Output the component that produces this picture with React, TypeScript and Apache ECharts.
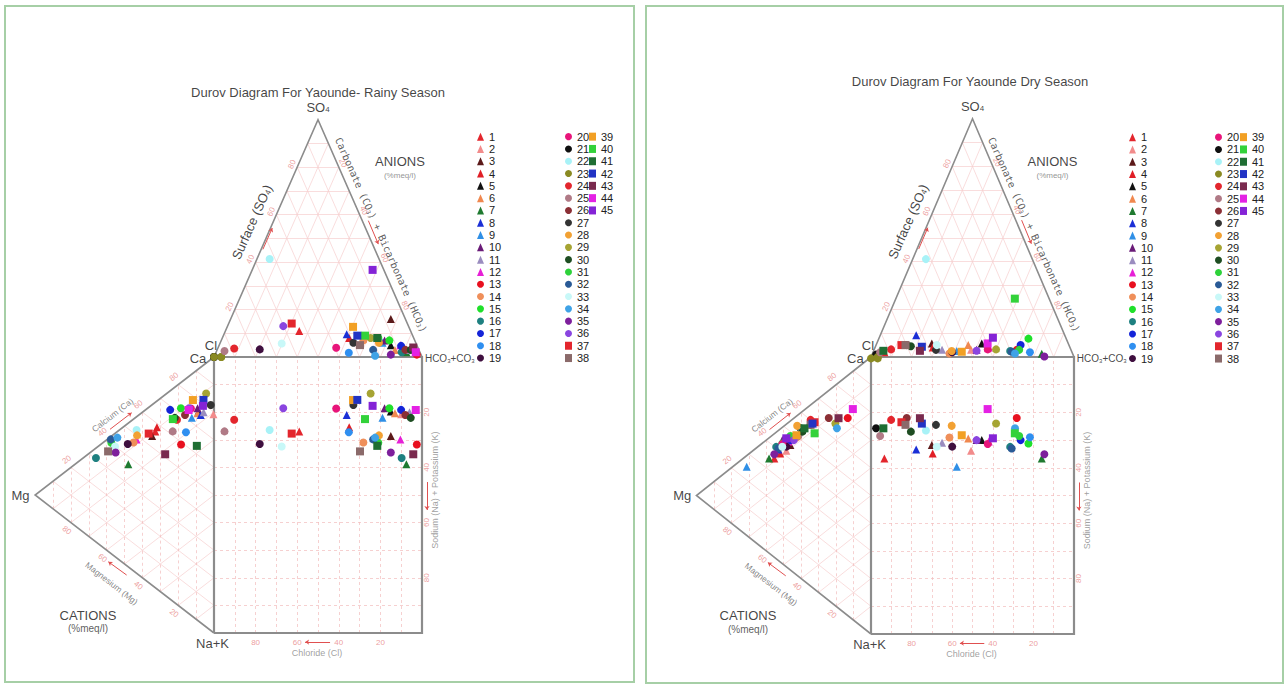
import React, { useEffect, useRef } from "react";
import * as echarts from "echarts";

// ---------- DATA (percent meq/l) ----------
const SAMPLE_NAMES = Array.from({ length: 45 }, (_, i) => String(i + 1));

// Rainy season
const rainySO4 = [11, 3, 16, 8, 5, 3, 2, 9.6, 6, 7, 3, 5, 1, 7, 7, 2, 4.7, 1.8, 3.2, 3.9, 0, 41.3, 0, 3.6, 2.5, 3, 6, 6, 8, 3, 8, 3, 5.7, 0.5, 1, 13, 14.1, 5, 12.7, 9, 8, 9, 4, 2, 36.7];
const rainyHCO3 = [35.5, 88.5, 77, 61, 82.5, 85.5, 91.5, 59, 78, 78.5, 92.5, 87.1, 97, 68.3, 80.8, 89.2, 87.6, 63.9, 20.4, 56.8, 0, 6.1, 3.5, 7.9, 3.8, 90.5, 64, 76.3, 71.3, 93.1, 75, 75, 29.7, 77.2, 84.5, 26.8, 30.3, 67.7, 60.5, 68.1, 74.5, 64.4, 93.8, 96, 57.9];
const rainyCa = [56.6, 79.1, 54.1, 58.6, 75.9, 75, 37.2, 75.3, 71.8, 76.8, 77.1, 48.5, 59.1, 46.5, 72.2, 30.4, 68.6, 64.9, 44.4, 74.9, 100, 51.9, 100, 66.9, 61.5, 70.9, 81.7, 50.1, 84.6, 67, 40.2, 41.3, 39.9, 43.8, 37.9, 74.5, 54, 36.2, 78.5, 66, 63, 81.5, 51.1, 73.7, 79.2];
const rainyMg = [32.8, 0.3, 34.6, 31.9, 8.7, 9.2, 47.9, 7.4, 12.4, 9.2, 5.8, 43.3, 18.4, 45, 18.5, 66, 24.5, 15.7, 48.2, 12.9, 0, 43.3, 0, 20.7, 23.1, 16.2, 1.8, 43, 4.4, 21.9, 57.4, 57.7, 55.3, 54, 55, 13.9, 36.5, 59.2, 11.8, 23, 9.6, 5.9, 27.3, 14.2, 6.2];

// Dry season
const drySO4 = [2, 3, 5.7, 4, 5.7, 5, 1.4, 9.1, 2.5, 3, 3, 4, 3, 1.5, 7.7, 2.5, 5, 2, 2, 3.2, 1, 41.1, 0, 3.2, 2, 5, 3, 2.5, 3.2, 4.5, 3, 2.2, 5, 1.5, 0.2, 2.6, 5, 5, 2.2, 24.5, 2.6, 4.3, 2.6, 5.7, 8.1];
const dryHCO3 = [5.6, 47.8, 27.1, 28.4, 51.7, 45.4, 83.4, 17.7, 41, 50.5, 33.5, 56, 70.3, 37.9, 73.7, 67.3, 71.2, 77.3, 39, 55.9, 2, 6.5, 3.3, 8.3, 3.5, 15.1, 30.5, 38.5, 60, 17.4, 71.5, 68.2, 29.9, 70.2, 85.3, 50.7, 12.5, 14.5, 43.6, 58.6, 4.8, 22.9, 22.8, 54.6, 56];
const dryCa = [35.7, 41.9, 45.1, 39.2, 45.8, 48.1, 34.2, 40.1, 24.8, 44.6, 44.2, 45.8, 71.3, 49.6, 43.4, 40.4, 46.9, 49.1, 43.4, 43.2, 54.1, 53.8, 99.5, 60, 50.7, 65.9, 58.2, 54, 65.8, 53.4, 48.4, 40.4, 42.2, 64.5, 37.2, 47.9, 60.3, 58.2, 50.4, 56.3, 55.2, 59.2, 68.6, 76, 46.4];
const dryMg = [55.4, 48.5, 46.2, 52, 48.5, 45, 58.4, 53.1, 71.2, 50.8, 49.7, 47.3, 13.3, 42.7, 50.8, 54.3, 46.2, 43.9, 48.5, 50.8, 40.4, 39.3, 0, 34.6, 41.6, 24.2, 34.6, 42.3, 20.4, 39.3, 46.2, 53.1, 50.8, 19.5, 55.4, 44.2, 32.3, 34.6, 42.7, 32.3, 38.1, 33.5, 18.6, 10.4, 48.5];

const SAMPLE_COLORS = [
  "#e3262d", "#f28b8b", "#5c1a1a", "#e01f26", "#111111", "#f0884f", "#1f7a30", "#1b2fd6", "#2f8fe6",
  "#6a1b78", "#9a8cbf", "#e620d6", "#e8101f", "#ef8f5a", "#1fe02a", "#1e8080", "#1424d8", "#2f8ff0",
  "#3f0f3f", "#e8157a", "#0f0f0f", "#a8f2f7", "#8a8a22", "#e3262d", "#b07a86", "#8b2f35", "#333333",
  "#f2a133", "#a6a433", "#1e4d22", "#2ed23a", "#2a5a96", "#c8f8f8", "#3fa2e6", "#7e1f9c", "#8a45e0",
  "#e3262d", "#8b6a6a", "#f2a024", "#33d23a", "#1f6e33", "#2233c4", "#7a2a4e", "#e421e4", "#8423d6",
];
const SAMPLE_SHAPES = SAMPLE_NAMES.map((_, i) => (i < 12 ? "triangle" : i < 36 ? "circle" : "rect"));

const TICKS = [20, 40, 60, 80];
const TITLES = ["Durov Diagram For Yaounde- Rainy Season", "Durov Diagram For Yaounde Dry Season"];

// ---------- GEOMETRY ----------
const K = 0.86;
const FONT = '"Liberation Sans", Arial, sans-serif';
const MONO = '"DejaVu Sans Mono", monospace';
const anionXY = (so4: number, hco3: number): [number, number] => [hco3 + so4 / 2, 100 + so4 * K];
const cationXY = (ca: number, mg: number): [number, number] => [-mg * K, ca + mg / 2];

function buildSegments() {
  const tri: any[] = [];
  const triV: any[] = [];
  const sq: any[] = [];
  for (let k = 10; k < 100; k += 10) {
    tri.push({ coords: [anionXY(k, 0), anionXY(k, 100 - k)] });
    tri.push({ coords: [anionXY(0, k), anionXY(100 - k, k)] });
    tri.push({ coords: [anionXY(100 - k, 0), anionXY(0, 100 - k)] });
    tri.push({ coords: [cationXY(k, 0), cationXY(k, 100 - k)] });
    triV.push({ coords: [cationXY(0, k), cationXY(100 - k, k)] });
    tri.push({ coords: [cationXY(100 - k, 0), cationXY(0, 100 - k)] });
    sq.push({ coords: [[k, 0], [k, 100]] });
    sq.push({ coords: [[0, k], [100, k]] });
  }
  return { tri, triV, sq };
}

type Lbl = {
  pos: [number, number];
  text: string;
  rotate?: number;
  size?: number;
  color?: string;
  family?: string;
  align?: string;
  rich?: any;
};

function richSub(size: number, color: string, family = FONT) {
  return {
    m: { fontSize: size, color, fontFamily: family },
    s: { fontSize: Math.round(size * 0.62), color, fontFamily: family, verticalAlign: "bottom" },
  };
}

function labelSeries(items: Lbl[], g: number) {
  return {
    type: "scatter",
    xAxisIndex: g,
    yAxisIndex: g,
    symbolSize: 0,
    silent: true,
    clip: false,
    z: 6,
    data: items.map((it) => ({
      value: it.pos,
      label: {
        show: true,
        position: "inside",
        formatter: it.text,
        rotate: it.rotate ?? 0,
        fontSize: it.size ?? 9,
        color: it.color ?? "#111",
        fontFamily: it.family ?? FONT,
        align: it.align ?? "center",
        verticalAlign: "middle",
        rich: it.rich,
      },
    })),
  };
}

function arrowSeries(g: number) {
  const arrows: [number, number][][] = [
    [[23.5, 139], [28, 146.7]],
    [[74.2, 149.4], [79, 140.9]],
    [[-50, 73.8], [-39.6, 79.8]],
    [[-42, 21], [-50.8, 25.8]],
    [[55.8, -3.3], [43.8, -3.3]],
    [[102.4, 54.7], [102.4, 44.6]],
  ];
  return {
    type: "lines",
    coordinateSystem: "cartesian2d",
    xAxisIndex: g,
    yAxisIndex: g,
    silent: true,
    symbol: ["none", "arrow"],
    symbolSize: 4,
    lineStyle: { color: "#e05050", width: 1, opacity: 1 },
    data: arrows.map((c) => ({ coords: c })),
    z: 4,
  };
}

function panelSeries(g: number, so4: number[], hco3: number[], ca: number[], mg: number[], titlePos: [number, number]) {
  const segs = buildSegments();
  const series: any[] = [];
  series.push({
    type: "lines", coordinateSystem: "cartesian2d", xAxisIndex: g, yAxisIndex: g, silent: true,
    lineStyle: { color: "#f7cfcf", width: 0.7, opacity: 1 }, data: segs.tri, z: 1,
  });
  series.push({
    type: "lines", coordinateSystem: "cartesian2d", xAxisIndex: g, yAxisIndex: g, silent: true,
    lineStyle: { color: "#f2bcbc", width: 0.7, type: [3, 3], opacity: 1 }, data: segs.triV.concat(segs.sq), z: 1,
  });
  // outlines
  series.push({
    type: "lines", coordinateSystem: "cartesian2d", xAxisIndex: g, yAxisIndex: g, silent: true, polyline: true,
    lineStyle: { color: "#8c8c8c", width: 1.6, opacity: 1 },
    data: [
      { coords: [anionXY(0, 0), anionXY(100, 0), anionXY(0, 100), anionXY(0, 0)] },
      { coords: [cationXY(100, 0), cationXY(0, 100), cationXY(0, 0)] },
    ],
    z: 2,
  });
  series.push({
    type: "lines", coordinateSystem: "cartesian2d", xAxisIndex: g, yAxisIndex: g, silent: true, polyline: true,
    lineStyle: { color: "#8c8c8c", width: 2.2, opacity: 1 },
    data: [{ coords: [[0, 0], [100, 0], [100, 100], [0, 100], [0, 0]] }],
    z: 2,
  });
  series.push(arrowSeries(g));

  const tickColor = "#e88585";
  const labels: Lbl[] = [];
  TICKS.forEach((k) => {
    const a1 = anionXY(k, 0);
    labels.push({ pos: [a1[0] - 2.5, a1[1] + 1], text: String(k), rotate: 66, size: 8, color: tickColor });
    const a2 = anionXY(100 - k, k);
    labels.push({ pos: [a2[0] + 2, a2[1] + 1.5], text: String(k), rotate: -66, size: 8, color: tickColor });
    const c1 = cationXY(k, 100 - k);
    labels.push({ pos: [c1[0] - 2, c1[1] + 2.8], text: String(k), rotate: 37.6, size: 8, color: tickColor });
    const c2 = cationXY(0, k);
    labels.push({ pos: [c2[0] - 2, c2[1] - 2.8], text: String(k), rotate: -37.6, size: 8, color: tickColor });
    labels.push({ pos: [100 - k, -3.3], text: String(k), size: 8, color: tickColor });
    labels.push({ pos: [102.4, 100 - k], text: String(k), rotate: 90, size: 8, color: tickColor });
  });
  labels.push({ pos: titlePos, text: TITLES[g], size: 13, color: "#111" });
  labels.push({ pos: [50, 190.5], text: "{m|SO}{s|4}", rich: richSub(13, "#111") });
  labels.push({ pos: [-1.5, 104.2], text: "Cl", size: 13 });
  labels.push({ pos: [-7.7, 99.6], text: "Ca", size: 13 });
  labels.push({ pos: [101.4, 99.3], text: "{m|HCO}{s|3}{m|+CO}{s|3}", align: "left", rich: richSub(10, "#111") });
  labels.push({ pos: [-93, 50], text: "Mg", size: 13 });
  labels.push({ pos: [-0.7, -3.9], text: "Na+K", size: 13 });
  labels.push({ pos: [18.3, 148.9], text: "{m|Surface (SO}{s|4}{m|)}", rotate: 66, rich: richSub(13, "#111") });
  labels.push({
    pos: [80.3, 144.2], text: "{m|Carbonate (CO}{s|3}{m|) + Bicarbonate (HCO}{s|3}{m|)}", rotate: -66,
    rich: richSub(10, "#333", MONO),
  });
  labels.push({ pos: [89.4, 170.7], text: "ANIONS", size: 13 });
  labels.push({ pos: [89.4, 165.6], text: "(%meq/l)", size: 8, color: "#777" });
  labels.push({ pos: [-48.8, 79], text: "Calcium (Ca)", rotate: 37.6, size: 8.5, color: "#666" });
  labels.push({ pos: [-49.2, 18], text: "Magnesium (Mg)", rotate: -37.6, size: 8.5, color: "#666" });
  labels.push({ pos: [-60.6, 6.5], text: "CATIONS", size: 13 });
  labels.push({ pos: [-60.6, 1.8], text: "(%meq/l)", size: 10, color: "#333" });
  labels.push({ pos: [49.5, -7.2], text: "Chloride (Cl)", size: 9, color: "#888" });
  labels.push({ pos: [106.3, 51.8], text: "Sodium (Na) + Potassium (K)", rotate: 90, size: 9, color: "#888" });
  series.push(labelSeries(labels, g));

  SAMPLE_NAMES.forEach((name, i) => {
    const a = anionXY(so4[i], hco3[i]);
    const c = cationXY(ca[i], mg[i]);
    series.push({
      type: "scatter",
      name,
      xAxisIndex: g,
      yAxisIndex: g,
      symbol: SAMPLE_SHAPES[i],
      symbolSize: 8,
      itemStyle: { color: SAMPLE_COLORS[i], opacity: 1 },
      data: [a, c, [a[0], c[1]]],
      z: 10,
    });
  });
  return series;
}

function legendCol(left: number, top: number, names: string[]) {
  return {
    orient: "vertical",
    left,
    top,
    padding: 0,
    itemWidth: 7,
    itemHeight: 8,
    itemGap: 0,
    selectedMode: false,
    data: names,
    textStyle: { fontSize: 11, lineHeight: 12.3, color: "#222", fontFamily: FONT },
  };
}

function buildOption() {
  const c1 = SAMPLE_NAMES.slice(0, 19);
  const c2 = SAMPLE_NAMES.slice(19, 38);
  const c3 = SAMPLE_NAMES.slice(38);
  return {
    animation: false,
    backgroundColor: "#ffffff",
    grid: [
      { left: 6, top: 81, width: 436.8, height: 593.4 },
      { left: 668, top: 80, width: 426.3, height: 595.55 },
    ],
    xAxis: [0, 1].map((g) => ({ type: "value", gridIndex: g, min: -100, max: 110, show: false })),
    yAxis: [0, 1].map((g) => ({ type: "value", gridIndex: g, min: -15, max: 200, show: false })),
    legend: [
      legendCol(477, 130.5, c1),
      legendCol(565, 130.5, c2),
      legendCol(589, 130.5, c3),
      legendCol(1129, 131, c1),
      legendCol(1215, 131, c2),
      legendCol(1240, 131, c3),
    ],
    graphic: [
      { type: "rect", shape: { x: 5, y: 6, width: 629, height: 676 }, style: { fill: "none", stroke: "#a6cfa6", lineWidth: 2 }, silent: true },
      { type: "rect", shape: { x: 646, y: 6, width: 637, height: 677 }, style: { fill: "none", stroke: "#a6cfa6", lineWidth: 2 }, silent: true },
    ],
    series: [
      ...panelSeries(0, rainySO4, rainyHCO3, rainyCa, rainyMg, [50, 195.7]),
      ...panelSeries(1, drySO4, dryHCO3, dryCa, dryMg, [48.8, 199.3]),
    ],
  };
}

export default function App() {
  const ref = useRef<HTMLDivElement>(null);
  useEffect(() => {
    if (!ref.current) return;
    const chart = echarts.init(ref.current, undefined, { renderer: "svg" });
    chart.setOption(buildOption() as any);
    return () => chart.dispose();
  }, []);
  return (
    <div
      ref={ref}
      style={{ position: "fixed", left: 0, top: 0, width: 1284, height: 685, background: "#fff" }}
    />
  );
}
